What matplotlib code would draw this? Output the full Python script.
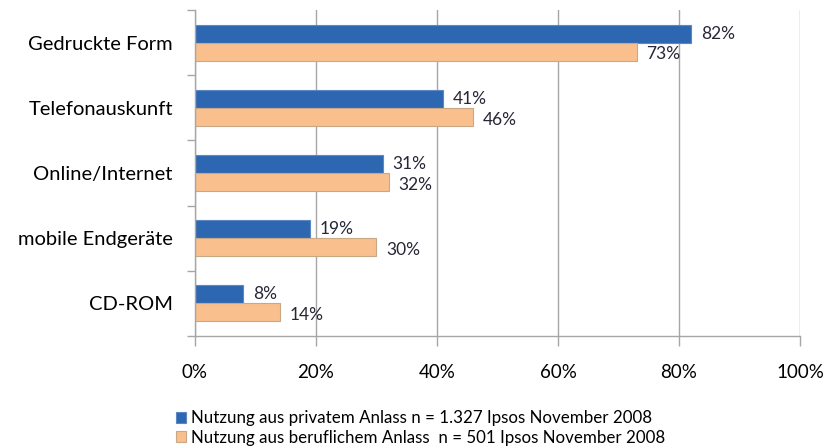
import matplotlib.pyplot as plt
import numpy as np

# Daten
kategorien = ['Gedruckte Form', 'Telefonauskunft', 'Online/Internet', 'mobile Endgeräte', 'CD-ROM']
privat = [82, 41, 31, 19, 8]
beruflich = [73, 46, 32, 30, 14]
xticks = [0, 20, 40, 60, 80, 100]
leg_privat = 'Nutzung aus privatem Anlass n = 1.327 Ipsos November 2008'
leg_beruf = 'Nutzung aus beruflichem Anlass  n = 501 Ipsos November 2008'

plt.rcParams['font.family'] = ['Lato', 'DejaVu Sans']

blau = '#2E67B1'
orange = '#F9C08E'
grau = '#A6A6A6'

fig = plt.figure(figsize=(8.29, 4.48), dpi=100)
ax = fig.add_axes([0.2352, 0.25, 0.7298, 0.7277])

y = np.arange(len(kategorien))
h = 0.277
b1 = ax.barh(y - h/2, privat, height=h, color=blau, edgecolor='#5B87C5', linewidth=0.8, label=leg_privat)
b2 = ax.barh(y + h/2, beruflich, height=h, color=orange, edgecolor='#C9A888', linewidth=0.8, label=leg_beruf)

for i in range(len(kategorien)):
    ax.annotate(f'{privat[i]}%', (privat[i], y[i] - h/2), xytext=(7, 0), textcoords='offset points',
                va='center', ha='left', fontsize=12.5, color='#262636')
    ax.annotate(f'{beruflich[i]}%', (beruflich[i], y[i] + h/2), xytext=(7, -2), textcoords='offset points',
                va='center', ha='left', fontsize=12.5, color='#262636')

ax.set_xlim(0, 100)
ax.set_ylim(len(kategorien) - 0.5, -0.5)
ax.set_xticks(xticks)
ax.set_xticklabels([f'{t}%' for t in xticks], fontsize=13.5)
ax.set_yticks(y)
ax.set_yticklabels(kategorien, fontsize=14.5)
ax.set_yticks(np.arange(len(kategorien) + 1) - 0.5, minor=True)
ax.tick_params(axis='y', which='major', length=0, pad=16)
ax.tick_params(axis='y', which='minor', length=6, color=grau, width=1)
ax.tick_params(axis='x', length=7, color=grau, width=1, pad=13)

ax.grid(axis='x', color=grau, linewidth=1)
ax.set_axisbelow(True)
for s in ['top', 'right']:
    ax.spines[s].set_visible(False)
for s in ['left', 'bottom']:
    ax.spines[s].set_color(grau)
    ax.spines[s].set_linewidth(1)

fig.legend(handles=[b1, b2], loc='upper left', bbox_to_anchor=(0.212, 0.084), frameon=False,
           fontsize=12.2, handlelength=0.6, handleheight=0.6, handletextpad=0.3, labelspacing=0.2,
           borderpad=0, borderaxespad=0)

fig.savefig('out.png', dpi=100)
